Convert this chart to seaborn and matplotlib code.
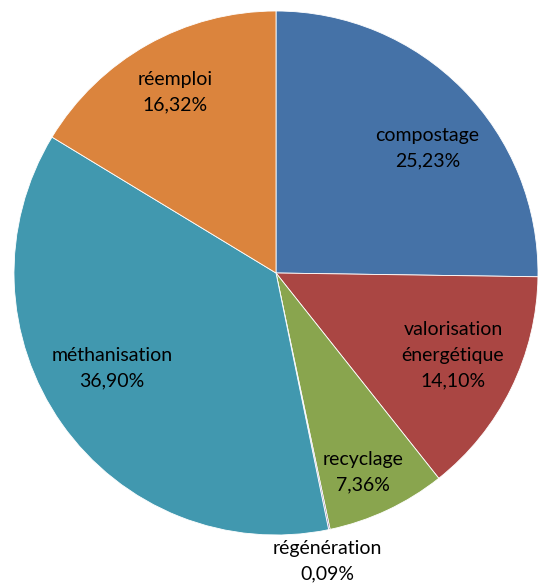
import matplotlib
matplotlib.use("Agg")
import matplotlib.pyplot as plt
import seaborn as sns
import numpy as np

sns.set_style("white")
plt.rcParams['font.family'] = ['Lato', 'DejaVu Sans']

categories = ['compostage', 'valorisation\nénergétique', 'recyclage', 'régénération',
              'méthanisation', 'réemploi']
shares = [25.23, 14.10, 7.36, 0.09, 36.90, 16.32]
colors = ['#4572A7', '#AA4643', '#89A54E', '#71588F', '#4198AF', '#DB843D']
# label placement: radial distance and angle nudge (degrees) per slice
label_dist = [0.75, 0.745, 0.83, 1.117, 0.723, 0.79]
label_nudge = [-5, 1.3, -1.7, -1.6, -5.1, -0.2]

fig = plt.figure(figsize=(5.44, 5.83), dpi=100)
ax = fig.add_axes([(276 - 262) / 544, (583 - 273 - 262) / 583, 524 / 544, 524 / 583])

wedges, _ = ax.pie(shares, colors=colors, startangle=90, counterclock=False,
                   wedgeprops=dict(edgecolor='white', linewidth=0.6))

for w, cat, val, d, n in zip(wedges, categories, shares, label_dist, label_nudge):
    ang = np.deg2rad((w.theta1 + w.theta2) / 2 + n)
    txt = f"{cat}\n{val:.2f}%".replace('.', ',')
    ax.text(d * np.cos(ang), d * np.sin(ang), txt, ha='center', va='center',
            fontsize=14, color='black', linespacing=1.6)

ax.set_xlim(-1, 1)
ax.set_ylim(-1, 1)
ax.set_aspect('equal')
ax.axis('off')

fig.savefig('out.png', dpi=100)
